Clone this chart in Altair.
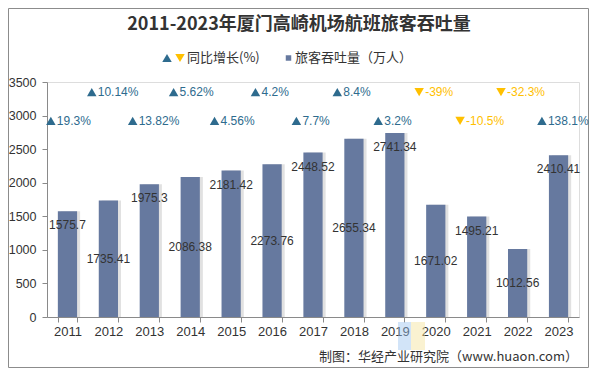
import altair as alt
import pandas as pd

years = ["2011", "2012", "2013", "2014", "2015", "2016", "2017",
         "2018", "2019", "2020", "2021", "2022", "2023"]
passengers = [1575.7, 1735.41, 1975.3, 2086.38, 2181.42, 2273.76, 2448.52,
              2655.34, 2741.34, 1671.02, 1495.21, 1012.56, 2410.41]
growth = [19.3, 10.14, 13.82, 5.62, 4.56, 4.2, 7.7, 8.4, 3.2, -39, -10.5, -32.3, 138.1]

df = pd.DataFrame({
    "year": years,
    "value": passengers,
    "growth": growth,
    "idx": list(range(len(years))),
})
df["vlabel"] = [f"{v:g}" for v in passengers]
df["glabel"] = [f"{g:g}%" for g in growth]
df["dir"] = ["up" if g >= 0 else "down" for g in growth]

FONT = "Liberation Sans"
CJK = "Noto Sans CJK SC"
BAR = "#66799f"
UP_TRI = "#2e6b8e"
UP_TXT = "#3a78a3"
DOWN = "#ffc000"

xscale = alt.Scale(domain=years, paddingInner=0.53, paddingOuter=0.265)
yscale = alt.Scale(domain=[0, 3500], nice=False, zero=True)

x_axis = alt.Axis(title=None, labelAngle=0, tickBand="extent", tickSize=5,
                  labelPadding=3, labelFont=FONT, labelFontSize=13,
                  labelColor="#333333", domainColor="#8a8a8a",
                  tickColor="#8a8a8a", grid=False)
y_axis = alt.Axis(title=None, values=list(range(0, 3501, 500)), format="d",
                  tickSize=5, labelPadding=6, labelFont=FONT, labelFontSize=12.5,
                  labelColor="#333333", domainColor="#8a8a8a",
                  tickColor="#8a8a8a", grid=False)


def X(**kw):
    return alt.X("year:N", scale=xscale, axis=x_axis, **kw)


def Y(field):
    return alt.Y(field, scale=yscale, axis=y_axis)


base = alt.Chart(df)

shadow = base.mark_bar(xOffset=3, color="#9a9a9a", opacity=0.3).encode(
    x=X(), y=Y("value:Q"),
)

bars = base.mark_bar(color=BAR).encode(x=X(), y=Y("value:Q"))

top_labels = base.transform_filter("datum.idx % 2 == 0").mark_text(
    font=FONT, fontSize=12, color="#333333", baseline="middle", dy=14
).encode(x=X(), y=Y("value:Q"), text="vlabel:N")

mid_labels = base.transform_filter("datum.idx % 2 == 1").transform_calculate(
    half="datum.value / 2"
).mark_text(font=FONT, fontSize=12, color="#333333", baseline="middle").encode(
    x=X(), y=Y("half:Q"), text="vlabel:N",
)

growth_base = base.transform_calculate(
    gy="datum.idx % 2 == 0 ? 2920 : 3350"
)

tri = growth_base.mark_point(filled=True, size=90, opacity=1, xOffset=-7).encode(
    x=X(bandPosition=0),
    y=Y("gy:Q"),
    shape=alt.Shape("dir:N", scale=alt.Scale(domain=["up", "down"],
                    range=["triangle-up", "triangle-down"]), legend=None),
    color=alt.Color("dir:N", scale=alt.Scale(domain=["up", "down"],
                    range=[UP_TRI, DOWN]), legend=None),
)

gtext = growth_base.mark_text(font=FONT, fontSize=12, align="left",
                              baseline="middle", dx=-1).encode(
    x=X(bandPosition=0),
    y=Y("gy:Q"),
    text="glabel:N",
    color=alt.Color("dir:N", scale=alt.Scale(domain=["up", "down"],
                    range=[UP_TXT, DOWN]), legend=None),
)

one = alt.Chart(pd.DataFrame({"a": [0]}))


def label(txt, x, y, size=13, color="#333333", align="left", weight="normal",
          font=CJK, opacity=1.0):
    return one.mark_text(text=txt, font=font, fontSize=size, color=color,
                         align=align, baseline="middle", fontWeight=weight,
                         opacity=opacity).encode(x=alt.value(x), y=alt.value(y))


title = label("2011-2023年厦门高崎机场航班旅客吞吐量", 252, -57, size=18,
              align="center", weight="bold")
leg_up = one.mark_point(shape="triangle-up", filled=True, size=90, opacity=1,
                        color=UP_TRI).encode(x=alt.value(120), y=alt.value(-24))
leg_down = one.mark_point(shape="triangle-down", filled=True, size=90, opacity=1,
                          color=DOWN).encode(x=alt.value(133), y=alt.value(-24))
leg_t1 = label("同比增长(%)", 140, -24, size=13)
leg_sq = one.mark_point(shape="square", filled=True, size=30, opacity=1,
                        color=BAR).encode(x=alt.value(241.5), y=alt.value(-24))
leg_t2 = label("旅客吞吐量（万人）", 248, -24, size=13)

wm_blue = one.mark_rect(color="#9cc3f0", opacity=0.45).encode(
    x=alt.value(351), x2=alt.value(364), y=alt.value(240), y2=alt.value(268))
wm_yellow = one.mark_rect(color="#f5e39a", opacity=0.45).encode(
    x=alt.value(364), x2=alt.value(378), y=alt.value(240), y2=alt.value(268))

source = label("制图：华经产业研究院（www.huaon.com）", 531, 275, size=13,
               align="right")

border = one.mark_rect(fill=None, stroke="#8c8c8c", strokeWidth=1).encode(
    x=alt.value(-38.5), x2=alt.value(541.5), y=alt.value(-73.5), y2=alt.value(285.5))

chart = alt.layer(
    border, wm_blue, wm_yellow, shadow, bars, top_labels, mid_labels, tri, gtext,
    title, leg_up, leg_down, leg_t1, leg_sq, leg_t2, source,
).properties(
    width=532, height=235,
    padding={"left": 39, "top": 74, "right": 10, "bottom": 51},
    autosize=alt.AutoSizeParams(type="none"),
).configure_view(stroke=None).configure(background="white")

chart.save("out.html", embed_options={"renderer": "svg", "actions": False})
